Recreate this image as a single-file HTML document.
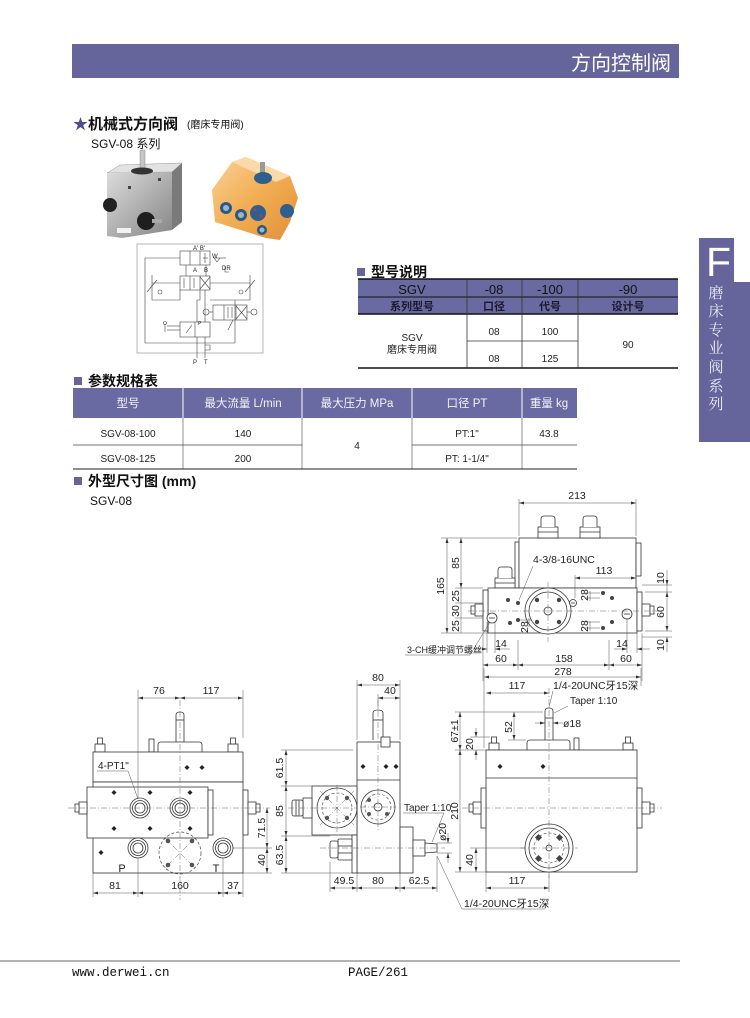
<!DOCTYPE html>
<html><head><meta charset="utf-8">
<style>
html,body{margin:0;padding:0;background:#fff;width:750px;height:1018px;overflow:hidden;}
svg{display:block;}
text{font-family:"Liberation Sans","Noto Sans CJK SC",sans-serif;fill:#222;}
.d{stroke:#333;stroke-width:0.8;fill:#fff;}
.dn{stroke:#333;stroke-width:0.8;fill:none;}
.t{stroke:#555;stroke-width:0.5;fill:none;}
.c{stroke:#666;stroke-width:0.5;fill:none;stroke-dasharray:6 2 1 2;}
.dm{font-size:10.5px;text-anchor:middle;}
.dia{fill:#222;}
</style></head><body>
<svg width="750" height="1018" viewBox="0 0 750 1018" xmlns="http://www.w3.org/2000/svg">
<defs>
<marker id="a" viewBox="0 0 10 10" refX="10" refY="5" markerUnits="userSpaceOnUse" markerWidth="5" markerHeight="5" orient="auto-start-reverse"><path d="M0,2 L10,5 L0,8z" fill="#333"/></marker>
<linearGradient id="met" x1="0" y1="0" x2="1" y2="1"><stop offset="0" stop-color="#dcdcdc"/><stop offset="0.5" stop-color="#b0b0b0"/><stop offset="1" stop-color="#858585"/></linearGradient>
<linearGradient id="org" x1="0" y1="0" x2="1" y2="1"><stop offset="0" stop-color="#f9d29a"/><stop offset="0.5" stop-color="#f2ad52"/><stop offset="1" stop-color="#e0903a"/></linearGradient>
</defs>

<!-- Header -->
<rect x="72" y="44" width="607" height="34" fill="#65659b"/>
<text x="671" y="70" font-size="20" style="fill:#fff" text-anchor="end">方向控制阀</text>

<!-- Side tab -->
<path d="M699,238 H734 V282 H750 V442 H699 Z" fill="#65659b"/>
<text x="706" y="276" font-size="41" style="fill:#fff">F</text>
<g font-size="15" text-anchor="middle">
<text x="716" y="298" style="fill:#eceaf4;font-family:'Noto Serif CJK SC',serif">磨</text>
<text x="716" y="316" style="fill:#eceaf4;font-family:'Noto Serif CJK SC',serif">床</text>
<text x="716" y="335" style="fill:#eceaf4;font-family:'Noto Serif CJK SC',serif">专</text>
<text x="716" y="353" style="fill:#eceaf4;font-family:'Noto Serif CJK SC',serif">业</text>
<text x="716" y="372" style="fill:#eceaf4;font-family:'Noto Serif CJK SC',serif">阀</text>
<text x="716" y="391" style="fill:#eceaf4;font-family:'Noto Serif CJK SC',serif">系</text>
<text x="716" y="409" style="fill:#eceaf4;font-family:'Noto Serif CJK SC',serif">列</text>
</g>

<!-- Title -->
<text x="73" y="129" font-size="15" style="fill:#4d4d8f">★</text>
<text x="88" y="129" font-size="15" font-weight="700" style="fill:#111">机械式方向阀</text>
<text x="187" y="128" font-size="10" style="fill:#111">(磨床专用阀)</text>
<text x="91" y="148" font-size="12" style="fill:#111">SGV-08 系列</text>

<!-- Photo left (metal) -->
<polygon points="107,173 120,165 182,163 172,172" fill="#e2e2e2" stroke="#999" stroke-width="0.5"/>
<polygon points="107,173 172,172 172,230 122,238 107,236" fill="url(#met)"/>
<polygon points="172,172 182,163 182,222 172,230" fill="#7a7a7a"/>
<rect x="140" y="150" width="5" height="20" fill="#c5c5c5" stroke="#777" stroke-width="0.4"/>
<ellipse cx="142" cy="171" rx="11" ry="3.5" fill="#333"/>
<circle cx="110" cy="205" r="7" fill="#222"/>
<circle cx="146" cy="221" r="9" fill="#1e1e1e"/>
<rect x="152" y="219" width="10" height="4" fill="#aaa"/>
<rect x="117" y="228" width="14" height="5" fill="#f2f2f2"/>
<rect x="128" y="186" width="3" height="3" fill="#444"/><rect x="158" y="178" width="3" height="3" fill="#444"/>

<!-- Photo right (orange) -->
<polygon points="212,190 232,162 246,157 290,176 298,198 290,222 280,240 266,238 215,222" fill="url(#org)"/>
<polygon points="232,162 246,157 290,176 276,182" fill="#fbd9a8"/>
<rect x="260" y="162" width="5" height="14" fill="#999"/>
<ellipse cx="263" cy="178" rx="9" ry="6" fill="#2f5f8f"/>
<circle cx="226" cy="208" r="6" fill="#2b5985"/><circle cx="226" cy="208" r="3" fill="#9fb4c4"/>
<circle cx="241" cy="215" r="6" fill="#2b5985"/><circle cx="241" cy="215" r="3" fill="#9fb4c4"/>
<circle cx="262" cy="230" r="5" fill="#2b5985"/><circle cx="262" cy="230" r="2.5" fill="#9fb4c4"/>
<circle cx="258" cy="213" r="8" fill="#2f5f8f"/>
<circle cx="255" cy="210" r="1.3" fill="#c33"/><circle cx="261" cy="216" r="1.3" fill="#c33"/>
<circle cx="287" cy="211" r="7" fill="#2f5f8f"/>

<!-- Schematic -->
<g stroke="#444" stroke-width="0.6" fill="none">
<rect x="137" y="244" width="126" height="109" stroke="#888"/>
<polyline points="180,258 145,258 145,343 235,343 235,300"/>
<rect x="180" y="251" width="30" height="14"/><line x1="190" y1="251" x2="190" y2="265"/><line x1="200" y1="251" x2="200" y2="265"/>
<line x1="203" y1="258" x2="208" y2="258"/><line x1="205" y1="253" x2="205" y2="263"/>
<rect x="180" y="276" width="30" height="14"/><line x1="190" y1="276" x2="190" y2="290"/><line x1="200" y1="276" x2="200" y2="290"/>
<line x1="200" y1="277" x2="210" y2="289"/><line x1="210" y1="277" x2="200" y2="289"/>
<line x1="184" y1="278" x2="184" y2="288"/><line x1="194" y1="278" x2="194" y2="288"/>
<polyline points="214,258 217,262 220,258"/><line x1="214" y1="258" x2="226" y2="258"/>
<polyline points="225,266 225,272 229,272"/>
<polyline points="152,275 152,300 180,300 180,290"/>
<line x1="152" y1="283" x2="180" y2="283"/>
<line x1="210" y1="283" x2="250" y2="283"/>
<polyline points="250,275 250,300 210,300"/>
<circle cx="160" cy="292" r="2"/><circle cx="241" cy="292" r="2"/>
<line x1="147" y1="292" x2="157" y2="280"/><line x1="245" y1="292" x2="255" y2="280"/>
<rect x="213" y="305" width="34" height="15"/><line x1="224" y1="305" x2="224" y2="320"/><line x1="236" y1="305" x2="236" y2="320"/>
<line x1="236" y1="306" x2="247" y2="319"/><line x1="247" y1="306" x2="236" y2="319"/>
<line x1="228" y1="307" x2="228" y2="318"/><line x1="232" y1="307" x2="232" y2="318"/>
<circle cx="206" cy="312" r="3"/><circle cx="254" cy="312" r="3"/>
<line x1="209" y1="312" x2="213" y2="312"/><line x1="247" y1="312" x2="251" y2="312"/>
<rect x="180" y="322" width="30" height="15"/><line x1="195" y1="322" x2="195" y2="337"/>
<line x1="167" y1="326" x2="180" y2="326"/><line x1="167" y1="330" x2="180" y2="330"/><line x1="165" y1="324" x2="165" y2="332"/>
<circle cx="165" cy="323" r="1.5"/>
<line x1="186" y1="333" x2="192" y2="325"/>
<line x1="233" y1="320" x2="228" y2="330"/>
<polyline points="197,337 197,358"/><polyline points="205,337 205,358"/>
<polyline points="200,290 200,300 197,300 197,322"/>
<polyline points="205,322 205,290"/>
<line x1="206" y1="265" x2="206" y2="276"/><line x1="186" y1="265" x2="186" y2="276"/>
<polyline points="205,345 210,345 210,350 205,350"/>
</g>
<g font-size="6" fill="#333">
<text x="193" y="250" font-size="6">A' B'</text>
<text x="212" y="258" font-size="6">W</text>
<text x="222" y="270" font-size="6">DR</text>
<text x="193" y="272" font-size="6">A</text><text x="204" y="272" font-size="6">B</text>
<text x="198" y="325" font-size="5">P</text>
<text x="193" y="364" font-size="6">P</text><text x="204" y="364" font-size="6">T</text>
</g>

<!-- Table 1 -->
<rect x="357" y="268" width="8" height="8" fill="#65659b"/>
<text x="371" y="277" font-size="14" font-weight="700" style="fill:#111">型号说明</text>
<rect x="358" y="279" width="320" height="35" fill="#6a6aa2"/>
<line x1="358" y1="279" x2="678" y2="279" stroke="#111" stroke-width="1.5"/>
<line x1="358" y1="297" x2="678" y2="297" stroke="#111" stroke-width="1"/>
<line x1="358" y1="314" x2="678" y2="314" stroke="#111" stroke-width="1.5"/>
<g stroke="#333" stroke-width="0.8"><line x1="467" y1="279" x2="467" y2="368"/><line x1="522" y1="279" x2="522" y2="368"/><line x1="578" y1="279" x2="578" y2="368"/></g>
<line x1="467" y1="341" x2="578" y2="341" stroke="#333" stroke-width="0.8"/>
<line x1="358" y1="368" x2="678" y2="368" stroke="#111" stroke-width="1.5"/>
<g font-size="13" text-anchor="middle">
<text x="412" y="294" style="fill:#111">SGV</text><text x="494" y="294" style="fill:#111">-08</text><text x="550" y="294" style="fill:#111">-100</text><text x="628" y="294" style="fill:#111">-90</text>
</g>
<g font-size="11" font-weight="700" text-anchor="middle">
<text x="412" y="310" style="fill:#1a1a2e">系列型号</text><text x="494" y="310" style="fill:#1a1a2e">口径</text><text x="550" y="310" style="fill:#1a1a2e">代号</text><text x="628" y="310" style="fill:#1a1a2e">设计号</text>
</g>
<g font-size="10" text-anchor="middle">
<text x="412" y="341">SGV</text><text x="412" y="353">磨床专用阀</text>
<text x="494" y="335">08</text><text x="550" y="335">100</text>
<text x="494" y="362">08</text><text x="550" y="362">125</text>
<text x="628" y="348">90</text>
</g>

<!-- Table 2 -->
<rect x="74" y="377" width="8" height="8" fill="#65659b"/>
<text x="88" y="386" font-size="14" font-weight="700" style="fill:#111">参数规格表</text>
<rect x="73" y="388" width="504" height="30" fill="#6a6aa2"/>
<g stroke="#fff" stroke-width="1"><line x1="183" y1="388" x2="183" y2="418"/><line x1="302" y1="388" x2="302" y2="418"/><line x1="412" y1="388" x2="412" y2="418"/><line x1="522" y1="388" x2="522" y2="418"/></g>
<g stroke="#777" stroke-width="0.8"><line x1="183" y1="418" x2="183" y2="469"/><line x1="302" y1="418" x2="302" y2="469"/><line x1="412" y1="418" x2="412" y2="469"/><line x1="522" y1="418" x2="522" y2="469"/></g>
<line x1="73" y1="445" x2="302" y2="445" stroke="#444" stroke-width="0.8"/>
<line x1="412" y1="445" x2="577" y2="445" stroke="#444" stroke-width="0.8"/>
<line x1="73" y1="469" x2="577" y2="469" stroke="#222" stroke-width="1"/>
<g font-size="11.5" text-anchor="middle">
<text x="128" y="407" style="fill:#f2f2f8">型号</text><text x="243" y="407" style="fill:#f2f2f8">最大流量 L/min</text><text x="357" y="407" style="fill:#f2f2f8">最大压力 MPa</text><text x="467" y="407" style="fill:#f2f2f8">口径 PT</text><text x="549" y="407" style="fill:#f2f2f8">重量 kg</text>
</g>
<g font-size="10" text-anchor="middle">
<text x="128" y="437">SGV-08-100</text><text x="243" y="437">140</text><text x="467" y="437">PT:1"</text><text x="549" y="437">43.8</text>
<text x="357" y="449">4</text>
<text x="128" y="462">SGV-08-125</text><text x="243" y="462">200</text><text x="467" y="462">PT: 1-1/4"</text>
</g>

<rect x="74" y="477" width="8" height="8" fill="#65659b"/>
<text x="88" y="486" font-size="14" font-weight="700" style="fill:#111">外型尺寸图 (mm)</text>
<text x="90" y="505" font-size="12" style="fill:#111">SGV-08</text>

<!-- ===== Top-right drawing ===== -->
<g class="d">
<rect x="515" y="542" width="4" height="46"/>
<rect x="519" y="538" width="117" height="50"/>
<rect x="636" y="543" width="5" height="33"/>
<rect x="538" y="527" width="20" height="11"/><path d="M541,527 V519 Q541,516 544,516 H552 Q555,516 555,519 V527"/>
<rect x="580" y="527" width="20" height="11"/><path d="M583,527 V519 Q583,516 586,516 H594 Q597,516 597,519 V527"/>
<rect x="495" y="578" width="20" height="10"/><path d="M498,578 V570 Q498,567 501,567 H509 Q512,567 512,570 V578"/>
<rect x="488" y="588" width="149" height="45"/>
<rect x="483" y="590" width="5" height="41"/>
<rect x="637" y="592" width="5" height="39"/>
<rect x="475" y="604" width="8" height="12"/><rect x="471" y="606" width="4" height="8"/>
<rect x="642" y="604" width="8" height="12"/><rect x="650" y="606" width="4" height="8"/>
<circle cx="548" cy="611" r="23"/>
<circle cx="548" cy="611" r="19"/>
<circle cx="548" cy="611" r="4"/>
<circle cx="492" cy="618" r="5"/>
<circle cx="627" cy="614" r="5"/>
<circle cx="573" cy="603" r="3.5"/>
</g>
<g class="dn">
<line x1="538" y1="532" x2="558" y2="532"/><line x1="580" y1="532" x2="600" y2="532"/><line x1="495" y1="583" x2="515" y2="583"/>
<line x1="489" y1="618" x2="495" y2="618"/><line x1="624" y1="614" x2="630" y2="614"/><line x1="571" y1="603" x2="575" y2="603"/>
</g>
<g fill="#444"><circle cx="537" cy="600" r="2.2"/><circle cx="559" cy="600" r="2.2"/><circle cx="537" cy="622" r="2.2"/><circle cx="559" cy="622" r="2.2"/>
<circle cx="508" cy="600" r="2"/><circle cx="518" cy="603" r="2"/><circle cx="510" cy="623" r="2"/><circle cx="518" cy="620" r="2"/>
<circle cx="603" cy="593" r="2"/><circle cx="612" cy="598" r="2"/><circle cx="603" cy="628" r="2"/><circle cx="612" cy="622" r="2"/></g>
<line class="c" x1="468" y1="611" x2="660" y2="611"/><line class="c" x1="548" y1="582" x2="548" y2="642"/>
<g class="t">
<line x1="519" y1="499" x2="519" y2="536"/><line x1="636" y1="499" x2="636" y2="536"/>
<line x1="519" y1="503" x2="636" y2="503" marker-start="url(#a)" marker-end="url(#a)"/>
<line x1="441" y1="538" x2="517" y2="538"/><line x1="455" y1="588" x2="483" y2="588"/>
<line x1="455" y1="603" x2="483" y2="603"/><line x1="455" y1="618" x2="483" y2="618"/><line x1="441" y1="633" x2="488" y2="633"/>
<line x1="447" y1="538" x2="447" y2="633" marker-start="url(#a)" marker-end="url(#a)"/>
<line x1="461" y1="538" x2="461" y2="588" marker-start="url(#a)" marker-end="url(#a)"/>
<line x1="461" y1="588" x2="461" y2="603"/><line x1="461" y1="603" x2="461" y2="618"/><line x1="461" y1="618" x2="461" y2="633"/>
<line x1="575" y1="575" x2="575" y2="598"/>
<line x1="575" y1="578" x2="636" y2="578" marker-start="url(#a)" marker-end="url(#a)"/>
<line x1="533" y1="566" x2="519" y2="600"/>
<line x1="590" y1="591" x2="590" y2="601"/><line x1="585" y1="593" x2="600" y2="593"/><line x1="585" y1="598" x2="600" y2="598"/>
<line x1="590" y1="621" x2="590" y2="631"/><line x1="585" y1="622" x2="600" y2="622"/><line x1="585" y1="628" x2="600" y2="628"/>
<line x1="529" y1="618" x2="529" y2="627"/><line x1="520" y1="620" x2="532" y2="620"/>
<line x1="642" y1="585" x2="672" y2="585"/><line x1="645" y1="592" x2="672" y2="592"/><line x1="645" y1="631" x2="672" y2="631"/><line x1="642" y1="637" x2="672" y2="637"/>
<line x1="667" y1="570" x2="667" y2="585" marker-end="url(#a)"/><line x1="667" y1="592" x2="667" y2="631" marker-start="url(#a)" marker-end="url(#a)"/><line x1="667" y1="652" x2="667" y2="637" marker-end="url(#a)"/>
<line x1="667" y1="585" x2="667" y2="592"/>
<line x1="487" y1="622" x2="487" y2="653"/><line x1="495" y1="622" x2="495" y2="653"/>
<line x1="474" y1="649" x2="487" y2="649" marker-end="url(#a)"/><line x1="510" y1="649" x2="495" y2="649" marker-end="url(#a)"/>
<line x1="627" y1="618" x2="627" y2="653"/><line x1="637" y1="633" x2="637" y2="653"/>
<line x1="614" y1="649" x2="627" y2="649" marker-end="url(#a)"/><line x1="650" y1="649" x2="637" y2="649" marker-end="url(#a)"/>
<line x1="483" y1="633" x2="483" y2="681"/><line x1="518" y1="640" x2="518" y2="670"/><line x1="609" y1="640" x2="609" y2="670"/><line x1="642" y1="633" x2="642" y2="681"/>
<line x1="483" y1="665" x2="518" y2="665" marker-start="url(#a)" marker-end="url(#a)"/>
<line x1="518" y1="665" x2="609" y2="665" marker-start="url(#a)" marker-end="url(#a)"/>
<line x1="609" y1="665" x2="642" y2="665" marker-start="url(#a)" marker-end="url(#a)"/>
<line x1="484" y1="677" x2="641" y2="677" marker-start="url(#a)" marker-end="url(#a)"/>
<polyline points="405,655 470,655 490,622"/>
</g>
<text x="577" y="499" class="dm">213</text>
<text x="444" y="586" class="dm" transform="rotate(-90 444 586)">165</text>
<text x="459" y="563" class="dm" transform="rotate(-90 459 563)">85</text>
<text x="459" y="596" class="dm" transform="rotate(-90 459 596)">25</text>
<text x="459" y="611" class="dm" transform="rotate(-90 459 611)">30</text>
<text x="459" y="626" class="dm" transform="rotate(-90 459 626)">25</text>
<text x="604" y="574" class="dm">113</text>
<text x="588" y="595" class="dm" transform="rotate(-90 588 595)">28</text>
<text x="588" y="626" class="dm" transform="rotate(-90 588 626)">28</text>
<text x="528" y="627" class="dm" transform="rotate(-90 528 627)">28</text>
<text x="664" y="578" class="dm" transform="rotate(-90 664 578)">10</text>
<text x="664" y="612" class="dm" transform="rotate(-90 664 612)">60</text>
<text x="664" y="645" class="dm" transform="rotate(-90 664 645)">10</text>
<text x="501" y="647" class="dm">14</text>
<text x="622" y="647" class="dm">14</text>
<text x="501" y="662" class="dm">60</text>
<text x="564" y="662" class="dm">158</text>
<text x="626" y="662" class="dm">60</text>
<text x="563" y="675" class="dm">278</text>
<text x="533" y="563" font-size="10.5">4-3/8-16UNC</text>
<text x="407" y="653" font-size="9">3-CH缓冲调节螺丝</text>

<!-- ===== Bottom-left drawing ===== -->
<g class="d">
<path d="M176,742 V715 Q176,712 180,712 Q184,712 184,715 V742"/>
<path d="M158,752 V745 Q158,742 161,742 H199 Q202,742 202,745 V752"/>
<rect x="95" y="744" width="10" height="8"/><rect x="97.5" y="738" width="5" height="6"/>
<rect x="228" y="744" width="10" height="8"/><rect x="230.5" y="738" width="5" height="6"/>
<rect x="149" y="739" width="5" height="13"/>
<rect x="93" y="752" width="150" height="30"/>
<rect x="93" y="782" width="150" height="91"/>
<rect x="87" y="787" width="121" height="51"/>
<rect x="208" y="790" width="5" height="45"/>
<rect x="243" y="790" width="5" height="45"/>
<rect x="79" y="802" width="8" height="12"/><rect x="75" y="804" width="4" height="8"/>
<rect x="248" y="802" width="8" height="12"/><rect x="256" y="804" width="4" height="8"/>
</g>
<line class="dn" x1="176" y1="720" x2="184" y2="720"/>
<circle cx="180" cy="853" r="21" fill="none" stroke="#444" stroke-width="0.7" stroke-dasharray="3 2"/>
<g class="c"><line x1="165" y1="838" x2="195" y2="868"/><line x1="195" y1="838" x2="165" y2="868"/></g>
<g fill="#555"><circle cx="168" cy="841" r="2.3"/><circle cx="192" cy="841" r="2.3"/><circle cx="168" cy="865" r="2.3"/><circle cx="192" cy="865" r="2.3"/></g>
<g class="d">
<circle cx="140" cy="808" r="10"/><circle cx="140" cy="808" r="7.5"/><circle cx="140" cy="808" r="5"/>
<circle cx="180" cy="808" r="10"/><circle cx="180" cy="808" r="7.5"/><circle cx="180" cy="808" r="5"/>
<circle cx="138" cy="848" r="10"/><circle cx="138" cy="848" r="7.5"/><circle cx="138" cy="848" r="5"/>
<circle cx="223" cy="848" r="10"/><circle cx="223" cy="848" r="7.5"/><circle cx="223" cy="848" r="5"/>
</g>
<g class="dia">
<path d="M187,765 l2.5,2.5 l-2.5,2.5 l-2.5,-2.5z"/><path d="M202,765 l2.5,2.5 l-2.5,2.5 l-2.5,-2.5z"/>
<path d="M114,790 l2.5,2.5 l-2.5,2.5 l-2.5,-2.5z"/><path d="M150,790 l2.5,2.5 l-2.5,2.5 l-2.5,-2.5z"/><path d="M190,790 l2.5,2.5 l-2.5,2.5 l-2.5,-2.5z"/>
<path d="M114,826 l2.5,2.5 l-2.5,2.5 l-2.5,-2.5z"/><path d="M150,826 l2.5,2.5 l-2.5,2.5 l-2.5,-2.5z"/><path d="M190,826 l2.5,2.5 l-2.5,2.5 l-2.5,-2.5z"/>
<path d="M101,850 l2.5,2.5 l-2.5,2.5 l-2.5,-2.5z"/>
</g>
<line class="c" x1="180" y1="700" x2="180" y2="900"/>
<line class="c" x1="68" y1="808" x2="270" y2="808"/>
<g class="t">
<line x1="138" y1="690" x2="138" y2="798"/><line x1="243" y1="690" x2="243" y2="738"/>
<line x1="138" y1="698" x2="180" y2="698" marker-start="url(#a)" marker-end="url(#a)"/>
<line x1="180" y1="698" x2="243" y2="698" marker-start="url(#a)" marker-end="url(#a)"/>
<polyline points="97,771 128,771 138,799"/>
<line x1="93" y1="873" x2="93" y2="897"/><line x1="138" y1="858" x2="138" y2="897"/><line x1="223" y1="858" x2="223" y2="897"/><line x1="243" y1="873" x2="243" y2="897"/>
<line x1="93" y1="893" x2="138" y2="893" marker-start="url(#a)" marker-end="url(#a)"/>
<line x1="138" y1="893" x2="223" y2="893" marker-start="url(#a)" marker-end="url(#a)"/>
<line x1="223" y1="893" x2="243" y2="893" marker-start="url(#a)" marker-end="url(#a)"/>
<line x1="233" y1="848" x2="272" y2="848"/><line x1="243" y1="873" x2="272" y2="873"/>
<line x1="267" y1="808" x2="267" y2="848" marker-start="url(#a)" marker-end="url(#a)"/>
<line x1="267" y1="848" x2="267" y2="873" marker-start="url(#a)" marker-end="url(#a)"/>
</g>
<text x="159" y="694" class="dm">76</text>
<text x="211" y="694" class="dm">117</text>
<text x="98" y="769" font-size="10">4-PT1"</text>
<text x="122" y="872" font-size="11" text-anchor="middle">P</text>
<text x="216" y="872" font-size="11" text-anchor="middle">T</text>
<text x="115" y="889" class="dm">81</text>
<text x="180" y="889" class="dm">160</text>
<text x="233" y="889" class="dm">37</text>
<text x="265" y="828" class="dm" transform="rotate(-90 265 828)">71.5</text>
<text x="265" y="860" class="dm" transform="rotate(-90 265 860)">40</text>

<!-- ===== Middle drawing ===== -->
<g class="d">
<path d="M373,740 V713 Q373,710 378,710 Q383,710 383,713 V740"/>
<rect x="357" y="742" width="43" height="131"/>
<rect x="381" y="737" width="9" height="10"/>
<rect x="312" y="786" width="45" height="49"/>
<circle cx="337" cy="808" r="20"/>
<rect x="303" y="798" width="9" height="20"/><rect x="292" y="800" width="11" height="16" rx="2"/>
<rect x="352" y="835" width="5" height="38"/>
<rect x="338" y="839" width="14" height="21" rx="1"/><rect x="330" y="841" width="8" height="17" rx="2"/>
<circle cx="378" cy="807" r="17"/><circle cx="378" cy="807" r="4"/>
<rect x="400" y="827" width="13" height="46"/>
<rect x="413" y="840" width="12" height="16"/>
<path d="M425,843 L437,844 L437,852 L425,853z"/>
</g>
<g class="dn">
<line x1="357" y1="780" x2="400" y2="780"/>
<line x1="373" y1="720" x2="383" y2="720"/>
<line x1="338" y1="846" x2="352" y2="846"/><line x1="338" y1="853" x2="352" y2="853"/>
<line x1="296" y1="800" x2="296" y2="816"/><line x1="299" y1="800" x2="299" y2="816"/>
</g>
<circle cx="337" cy="808" r="15" fill="none" stroke="#444" stroke-width="0.6" stroke-dasharray="3 2"/>
<circle cx="378" cy="807" r="13" fill="none" stroke="#444" stroke-width="0.6" stroke-dasharray="3 2"/>
<g fill="#555"><circle cx="327" cy="798" r="2.2"/><circle cx="347" cy="798" r="2.2"/><circle cx="327" cy="818" r="2.2"/><circle cx="347" cy="818" r="2.2"/>
<circle cx="369" cy="800" r="2"/><circle cx="387" cy="814" r="2"/><circle cx="369" cy="814" r="2"/></g>
<g class="c"><line x1="320" y1="791" x2="354" y2="825"/><line x1="354" y1="791" x2="320" y2="825"/><line x1="288" y1="808" x2="358" y2="808"/><line x1="337" y1="785" x2="337" y2="832"/>
<line x1="378" y1="700" x2="378" y2="832"/><line x1="360" y1="807" x2="396" y2="807"/><line x1="320" y1="848" x2="445" y2="848"/></g>
<g class="dia">
<path d="M363,764 l2.5,2.5 l-2.5,2.5 l-2.5,-2.5z"/><path d="M386,764 l2.5,2.5 l-2.5,2.5 l-2.5,-2.5z"/><path d="M396,764 l2.5,2.5 l-2.5,2.5 l-2.5,-2.5z"/>
</g>
<g class="t">
<line x1="357" y1="680" x2="357" y2="740"/><line x1="400" y1="680" x2="400" y2="740"/>
<line x1="357" y1="685" x2="400" y2="685" marker-start="url(#a)" marker-end="url(#a)"/>
<line x1="378" y1="694" x2="378" y2="708"/>
<line x1="378" y1="698" x2="400" y2="698" marker-start="url(#a)" marker-end="url(#a)"/>
<line x1="281" y1="750" x2="353" y2="750"/><line x1="281" y1="786" x2="312" y2="786"/><line x1="281" y1="836" x2="330" y2="836"/><line x1="281" y1="873" x2="352" y2="873"/>
<line x1="286" y1="750" x2="286" y2="786" marker-start="url(#a)" marker-end="url(#a)"/>
<line x1="286" y1="786" x2="286" y2="836" marker-start="url(#a)" marker-end="url(#a)"/>
<line x1="286" y1="836" x2="286" y2="873" marker-start="url(#a)" marker-end="url(#a)"/>
<line x1="330" y1="862" x2="330" y2="892"/><line x1="357" y1="873" x2="357" y2="892"/><line x1="400" y1="873" x2="400" y2="892"/><line x1="437" y1="856" x2="437" y2="892"/>
<line x1="330" y1="888" x2="357" y2="888" marker-start="url(#a)" marker-end="url(#a)"/>
<line x1="357" y1="888" x2="400" y2="888" marker-start="url(#a)" marker-end="url(#a)"/>
<line x1="400" y1="888" x2="437" y2="888" marker-start="url(#a)" marker-end="url(#a)"/>
<polyline points="403,813 444,813 432,842"/>
<line x1="437" y1="843" x2="452" y2="843"/><line x1="437" y1="853" x2="452" y2="853"/>
<line x1="448" y1="833" x2="448" y2="843" marker-end="url(#a)"/><line x1="448" y1="863" x2="448" y2="853" marker-end="url(#a)"/>
<polyline points="437,856 462,909 545,909"/>
</g>
<text x="378" y="681" class="dm">80</text>
<text x="390" y="694" class="dm">40</text>
<text x="283" y="768" class="dm" transform="rotate(-90 283 768)">61.5</text>
<text x="283" y="811" class="dm" transform="rotate(-90 283 811)">85</text>
<text x="283" y="855" class="dm" transform="rotate(-90 283 855)">63.5</text>
<text x="344" y="884" class="dm">49.5</text>
<text x="378" y="884" class="dm">80</text>
<text x="419" y="884" class="dm">62.5</text>
<text x="404" y="811" font-size="10">Taper 1:10</text>
<text x="446" y="832" class="dm" transform="rotate(-90 446 832)">ø20</text>
<text x="464" y="907" font-size="10.5">1/4-20UNC牙15深</text>

<!-- ===== Right drawing ===== -->
<g class="d">
<path d="M545,740 V711 Q545,708 549,708 Q553,708 553,711 V740"/>
<path d="M527,750 V743 Q527,740 530,740 H567 Q570,740 570,743 V750"/>
<rect x="489" y="743" width="10" height="7"/><rect x="491.5" y="737" width="5" height="6"/>
<rect x="623" y="743" width="10" height="7"/><rect x="625.5" y="737" width="5" height="6"/>
<rect x="574" y="738" width="5" height="12"/>
<rect x="486" y="750" width="151" height="122"/>
<rect x="481" y="788" width="5" height="40"/><rect x="637" y="788" width="5" height="40"/>
<rect x="473" y="802" width="8" height="12"/><rect x="469" y="804" width="4" height="8"/>
<rect x="642" y="802" width="8" height="12"/><rect x="650" y="804" width="4" height="8"/>
<circle cx="549" cy="848" r="24"/><circle cx="549" cy="848" r="20"/><circle cx="549" cy="848" r="3"/>
</g>
<g class="dn"><line x1="486" y1="778" x2="637" y2="778"/><line x1="545" y1="718" x2="553" y2="718"/></g>
<circle cx="549" cy="848" r="15" fill="none" stroke="#444" stroke-width="0.6" stroke-dasharray="3 2"/>
<g fill="#444"><rect x="536" y="835" width="5" height="5" transform="rotate(45 538.5 837.5)"/><rect x="557" y="835" width="5" height="5" transform="rotate(45 559.5 837.5)"/><rect x="536" y="856" width="5" height="5" transform="rotate(45 538.5 858.5)"/><rect x="557" y="856" width="5" height="5" transform="rotate(45 559.5 858.5)"/></g>
<g class="dia"><path d="M500,764 l2.5,2.5 l-2.5,2.5 l-2.5,-2.5z"/><path d="M543,764 l2.5,2.5 l-2.5,2.5 l-2.5,-2.5z"/></g>
<g class="c"><line x1="549" y1="688" x2="549" y2="878"/><line x1="462" y1="808" x2="662" y2="808"/><line x1="520" y1="848" x2="578" y2="848"/></g>
<g class="t">
<line x1="484" y1="668" x2="484" y2="748"/><line x1="641" y1="668" x2="641" y2="686"/>
<line x1="486" y1="693" x2="549" y2="693" marker-start="url(#a)" marker-end="url(#a)"/>
<line x1="553" y1="691" x2="549" y2="707"/>
<line x1="568" y1="706" x2="554" y2="713"/>
<line x1="535" y1="723" x2="545" y2="723" marker-end="url(#a)"/><line x1="563" y1="723" x2="553" y2="723" marker-end="url(#a)"/>
<line x1="455" y1="712" x2="543" y2="712"/><line x1="508" y1="740" x2="526" y2="740"/>
<line x1="514" y1="712" x2="514" y2="740" marker-start="url(#a)" marker-end="url(#a)"/>
<line x1="455" y1="750" x2="486" y2="750"/><line x1="455" y1="872" x2="486" y2="872"/>
<line x1="460" y1="712" x2="460" y2="750" marker-start="url(#a)" marker-end="url(#a)"/>
<line x1="460" y1="750" x2="460" y2="872" marker-start="url(#a)" marker-end="url(#a)"/>
<line x1="470" y1="737" x2="490" y2="737"/>
<line x1="476" y1="728" x2="476" y2="737" marker-end="url(#a)"/><line x1="476" y1="760" x2="476" y2="750" marker-end="url(#a)"/>
<line x1="470" y1="848" x2="525" y2="848"/>
<line x1="476" y1="848" x2="476" y2="872" marker-start="url(#a)" marker-end="url(#a)"/>
<line x1="486" y1="872" x2="486" y2="892"/><line x1="549" y1="872" x2="549" y2="892"/>
<line x1="486" y1="888" x2="549" y2="888" marker-start="url(#a)" marker-end="url(#a)"/>
</g>
<text x="517" y="689" class="dm">117</text>
<text x="553" y="689" font-size="10.5">1/4-20UNC牙15深</text>
<text x="570" y="704" font-size="10">Taper 1:10</text>
<text x="563" y="727" font-size="10.5">ø18</text>
<text x="512" y="727" class="dm" transform="rotate(-90 512 727)">52</text>
<text x="458" y="731" class="dm" transform="rotate(-90 458 731)">67±1</text>
<text x="458" y="811" class="dm" transform="rotate(-90 458 811)">210</text>
<text x="473" y="744" class="dm" transform="rotate(-90 473 744)">20</text>
<text x="473" y="860" class="dm" transform="rotate(-90 473 860)">40</text>
<text x="517" y="884" class="dm">117</text>

<!-- Footer -->
<line x1="0" y1="961" x2="680" y2="961" stroke="#999" stroke-width="1.5"/>
<text x="72" y="976" font-size="12.5" style="font-family:'Liberation Mono',monospace;fill:#111">www.derwei.cn</text>
<text x="348" y="976" font-size="12.5" style="font-family:'Liberation Mono',monospace;fill:#111">PAGE/261</text>
</svg>
</body></html>
